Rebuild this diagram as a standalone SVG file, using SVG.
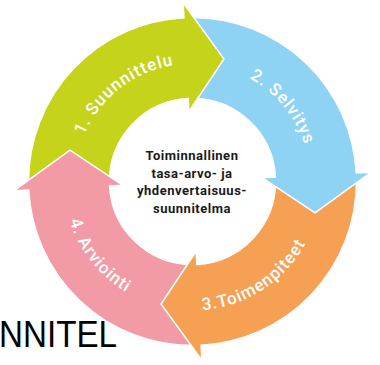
<svg xmlns="http://www.w3.org/2000/svg" width="380" height="365" viewBox="0 0 380 365">
<style>
.seg{stroke:#ffffff;stroke-width:1.5;stroke-linejoin:miter}
.arc{font-family:Roboto,"Liberation Sans",sans-serif;font-size:17px;font-weight:500;fill:#ffffff;letter-spacing:1px}
.ctr{font-family:Roboto,"Liberation Sans",sans-serif;font-size:13px;font-weight:700;fill:#1a1a1a;text-anchor:middle;letter-spacing:0.5px}
</style>
<defs>
<path id="shape" d="M28.5,181.5 A164,164 0 0,1 183.92,17.72 L183.13,2.75 L223.96,58.97 L188.84,111.6 L188.16,98.61 A83,83 0 0,0 109.5,181.5 Z"/>
<mask id="cut" maskUnits="userSpaceOnUse" x="0" y="0" width="380" height="365">
<rect x="0" y="0" width="380" height="365" fill="#ffffff"/>
<polygon points="13.75,190.87 69.97,150.04 122.6,185.16" fill="#000000" stroke="#000000" stroke-width="1.5"/>
</mask>
<path id="tp1" d="M77.52,208.04 A118,118 0 0,1 246.07,76.36"/>
<path id="tp2" d="M162.96,67.26 A118,118 0 0,1 299.01,232.30"/>
<path id="tp3" d="M124.14,290.90 A129,129 0 0,0 320.25,163.55"/>
<path id="tp4" d="M77.05,123.94 A129,129 0 0,0 222.62,306.94"/>
</defs>
<g id="arviointi">
<use href="#shape" class="seg" fill="#f29ba6" transform="rotate(270 192.5 181.5)"/>
<text class="arc"><textPath href="#tp4" startOffset="50%" text-anchor="middle">4. Arviointi</textPath></text>
</g>
<g id="toimenpiteet">
<use href="#shape" class="seg" fill="#f5a053" transform="rotate(180 192.5 181.5)"/>
<text class="arc"><textPath href="#tp3" startOffset="50%" text-anchor="middle">3.Toimenpiteet</textPath></text>
</g>
<g id="selvitys">
<use href="#shape" class="seg" fill="#8ed3f4" transform="rotate(90 192.5 181.5)"/>
<text class="arc"><textPath href="#tp2" startOffset="50%" text-anchor="middle">2. Selvitys</textPath></text>
</g>
<g id="suunnittelu">
<use href="#shape" class="seg" fill="#c6d31b" mask="url(#cut)"/>
<text class="arc"><textPath href="#tp1" startOffset="50%" text-anchor="middle">1. Suunnittelu</textPath></text>
</g>
<g id="keskus">
<text class="ctr" x="192" y="160">Toiminnallinen</text>
<text class="ctr" x="192" y="177.5">tasa-arvo- ja</text>
<text class="ctr" x="192" y="195">yhdenvertaisuus-</text>
<text class="ctr" x="192" y="212.5">suunnitelma</text>
</g>
<g id="connectors"></g>
<text x="-1" y="346.5" font-family="'Liberation Sans',Arial,sans-serif" font-size="36" fill="#000000" textLength="118" lengthAdjust="spacingAndGlyphs">NNITEL</text>
</svg>
